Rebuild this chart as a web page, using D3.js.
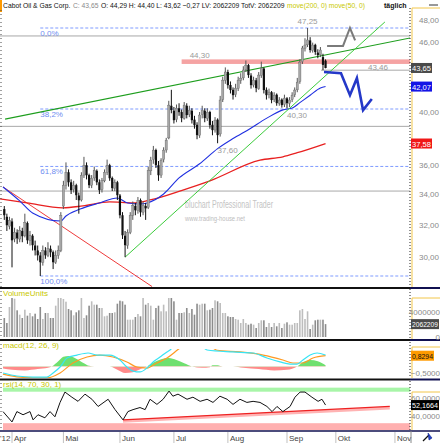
<!DOCTYPE html>
<html>
<head>
<meta charset="utf-8">
<script src="https://cdn.jsdelivr.net/npm/d3@7"></script>
<style>
  body { margin: 0; background: #fff; }
  svg { display: block; font-family: "Liberation Sans", Arial, sans-serif; }
</style>
</head>
<body>
<div id="wrapper"></div>
<script>
// daily bars, Cabot Oil & Gas, 2012-03-28 .. 2012-09-25
const firstDay = "2012-03-28";
const lastAxisDay = "2012-11-30";
const holidays = ["2012-04-06", "2012-05-28", "2012-07-04", "2012-09-03"];
const monthLabels = ["Apr", "Mai", "Jun", "Jul", "Aug", "Sep", "Okt", "Nov"];

const openPrices = [
  33.00,32.50,31.90,32.20,31.10,31.50,31.10,31.60,31.30,32.10,
  31.00,31.30,30.70,30.40,30.10,29.70,30.40,30.10,30.50,30.30,
  29.70,30.10,30.40,33.20,34.60,35.50,34.80,34.30,34.60,33.90,
  33.60,35.30,36.00,35.30,34.60,35.10,35.60,34.80,34.30,34.90,
  35.50,36.00,35.10,34.40,34.80,33.90,32.60,31.30,30.70,31.50,
  32.60,33.20,32.90,33.60,32.80,33.20,33.10,35.60,36.40,37.10,
  36.00,35.30,36.40,37.10,38.00,40.50,40.10,39.40,40.30,40.00,
  39.50,40.50,39.80,40.10,39.40,39.00,38.20,39.80,40.10,39.50,
  40.00,39.00,38.60,39.40,38.30,41.00,42.60,43.30,42.20,41.80,
  41.40,41.90,42.60,42.80,43.50,43.90,43.00,42.20,42.60,41.90,
  43.00,43.60,41.80,41.40,41.60,41.00,41.40,40.70,41.00,40.60,
  41.10,40.70,41.00,41.40,41.80,42.50,44.20,45.40,45.70,46.10,
  45.20,45.70,45.00,44.80,44.60,44.29
];
const highPrices = [
  33.20,32.70,32.50,32.40,31.80,31.70,31.90,31.80,32.70,32.20,
  31.60,31.40,31.00,30.70,30.30,30.70,30.60,30.90,30.70,30.40,
  30.40,30.70,32.80,34.90,36.20,35.70,35.00,34.90,34.70,34.10,
  35.50,36.60,36.20,35.40,35.30,35.90,35.70,35.00,35.10,35.70,
  36.40,36.10,35.20,35.00,34.90,34.00,32.80,31.60,31.70,32.80,
  33.50,33.40,33.80,33.70,33.50,33.40,35.90,36.60,37.40,37.20,
  36.30,36.50,37.30,38.00,40.90,41.80,40.40,40.60,40.70,40.20,
  40.80,40.70,40.50,40.30,39.70,39.20,40.00,40.50,40.30,40.30,
  40.10,39.30,39.60,39.50,41.30,42.90,43.70,43.50,42.50,42.00,
  42.30,42.90,43.20,43.80,44.30,44.00,43.20,42.90,42.80,43.30,
  44.20,43.70,42.00,41.90,41.70,41.60,41.50,41.20,41.10,41.40,
  41.20,41.20,41.60,42.00,42.80,44.40,45.60,46.30,47.25,46.40,
  45.90,45.80,45.30,45.50,44.90,44.40
];
const lowPrices = [
  32.30,31.60,31.70,29.40,30.90,30.80,30.90,30.90,31.20,30.80,
  30.70,30.40,30.10,29.80,28.90,29.50,29.90,30.00,30.00,29.30,
  29.60,29.90,30.30,33.00,34.30,34.50,34.00,34.10,33.60,32.70,
  33.50,35.10,35.00,34.40,34.40,34.90,34.60,34.00,34.10,34.80,
  35.30,34.90,34.20,34.20,33.60,32.40,31.10,30.00,30.50,31.40,
  32.30,32.60,32.70,32.50,32.60,32.30,33.00,35.30,36.10,35.80,
  34.90,35.10,36.20,36.90,37.90,39.90,39.10,39.20,39.70,39.20,
  39.40,39.50,39.60,39.10,38.70,37.90,38.00,39.50,39.20,39.30,
  38.70,38.20,38.40,37.60,38.10,40.80,42.30,41.90,41.50,41.00,
  41.20,41.70,42.30,42.60,43.30,42.80,41.90,42.00,41.60,41.80,
  42.80,41.50,41.00,41.10,40.70,40.80,40.50,40.50,40.35,40.40,
  40.30,40.40,40.80,41.20,41.60,42.30,44.00,45.10,45.50,45.00,
  45.00,44.80,44.50,44.60,43.46,43.62
];
const closePrices = [
  32.60,31.96,32.28,31.02,31.52,31.14,31.64,31.27,32.15,31.02,
  31.33,30.72,30.41,30.11,29.70,30.41,30.11,30.53,30.29,29.70,
  30.11,30.41,32.60,34.60,35.50,34.80,34.26,34.60,33.92,33.58,
  35.29,36.00,35.29,34.60,35.08,35.64,34.80,34.26,34.94,35.50,
  36.00,35.08,34.40,34.80,33.92,32.60,31.33,30.72,31.52,32.60,
  33.25,32.92,33.58,32.79,33.25,33.05,35.64,36.36,37.09,36.00,
  35.29,36.36,37.09,37.83,40.55,40.15,39.36,40.31,39.99,39.52,
  40.55,39.76,40.15,39.36,38.97,38.21,39.76,40.15,39.52,39.99,
  38.97,38.59,39.36,38.21,40.96,42.61,43.30,42.19,41.78,41.36,
  41.94,42.61,42.78,43.47,43.90,43.04,42.19,42.61,41.94,43.04,
  43.64,41.78,41.36,41.61,40.96,41.36,40.71,40.96,40.55,41.12,
  40.71,40.96,41.36,41.78,42.44,44.16,45.41,45.68,46.14,45.23,
  45.68,45.05,44.78,45.23,43.92,43.65
];
// volume in millions of shares
const volumes = [
  3.04,2.24,4.80,6.24,6.13,4.27,3.57,3.04,4.37,3.41,
  3.84,3.31,3.73,2.88,4.80,2.88,3.84,3.84,3.04,3.04,
  5.01,6.24,6.24,6.08,5.65,4.48,4.27,3.47,3.95,4.27,
  6.24,3.04,3.47,5.01,5.71,5.17,5.17,4.64,4.64,3.31,
  3.41,3.84,3.84,3.95,5.33,5.81,5.71,5.17,2.77,2.77,
  2.77,3.20,3.68,3.31,6.24,5.17,5.44,5.01,2.77,4.64,
  5.01,4.11,5.17,4.11,6.24,6.24,5.71,2.77,3.84,3.84,
  3.95,4.64,3.84,4.48,3.57,5.33,5.17,5.33,5.33,4.27,
  4.37,4.64,5.87,5.71,5.44,3.84,3.84,3.31,3.20,3.20,
  2.88,2.77,2.24,2.88,2.24,1.97,2.13,1.97,1.44,2.24,
  2.67,2.67,1.60,2.24,1.60,2.24,1.71,2.24,1.44,2.13,
  2.35,1.97,1.97,2.24,2.24,4.27,4.48,2.88,4.11,1.28,
  1.97,2.67,2.77,2.77,2.77,2.062209
];

// indicator curves as [bar index, value]
const ma50Points = [[-0.5,34.48],[6,33.54],[11,32.75],[22,32.23],[24,32.55],[29.5,33.0],[37,33.4],[44,33.73],[48,33.4],[53,33.34],[55.5,33.4],[62,34.0],[68,35.1],[76,36.1],[83,37.2],[89,37.95],[95.6,38.7],[102,39.5],[108.4,40.17],[112.3,40.35],[115,40.75],[119,41.35],[123,41.95],[125,42.07]];
const ma200Points = [[-1.7,33.67],[8.8,33.41],[22.8,33.08],[30.6,33.21],[41,33.47],[50,33.41],[56.7,33.6],[69.5,34.27],[80,34.9],[99.5,36.36],[108.4,36.6],[114,36.9],[125,37.58]];
const macdPoints = [[-0.5,-0.5],[4.9,-0.73],[11.2,-0.81],[16.6,-0.81],[19,-0.5],[21.7,-0.04],[24.4,0.65],[28.3,0.88],[32.6,1.04],[36.1,0.88],[41.1,0.88],[45,0.5],[47.7,-0.04],[50.1,-0.35],[52.8,-0.42],[55.5,-0.12],[57.9,0.35],[60.6,0.73],[63.3,1.12],[64.5,1.27],[67,1.8],[71,2.2],[75,2.0],[78.9,1.27],[89,1.12],[96.8,1.04],[102.2,0.65],[107.3,0.35],[111.2,0.19],[113.9,0.19],[116.2,0.5],[119,0.88],[121.7,1.04],[125,0.88]];
const signalPoints = [[-0.5,-0.58],[6.1,-0.81],[16.6,-0.88],[21.7,-0.5],[26.7,0.27],[32.2,0.73],[37.2,0.88],[42.3,0.73],[47.7,0.35],[51.6,-0.04],[55.5,-0.12],[59.4,0.27],[63.3,0.65],[67.6,1.3],[71,1.8],[76,2.0],[80,1.6],[82.8,1.25],[91.7,1.12],[100.7,0.88],[108.4,0.5],[112.3,0.27],[116.2,0.27],[120.1,0.65],[125,0.8294]];
const histPoints = [[-0.5,-0.15],[3,-0.25],[8,-0.3],[13,-0.2],[17,-0.1],[18.5,0],[21,0.4],[23,0.75],[25,0.8],[28,0.6],[31,0.25],[33,0.05],[35,0],[41,0],[44,-0.25],[47,-0.5],[50,-0.45],[53,-0.2],[55.5,0],[58,0.3],[61,0.55],[64,0.65],[67,0.5],[70,0.25],[73,0],[77,-0.1],[80,-0.05],[81,0.1],[83,0.1],[85,0],[89,0],[93,-0.1],[99,-0.2],[105,-0.3],[110,-0.25],[114,0],[116,0.3],[119,0.5],[122,0.4],[125,0.1]];
const rsiPoints = [[-0.5,44.9],[3,33.4],[4.9,44.9],[7.3,41.4],[10,44.9],[11.2,35.7],[13.1,41.4],[15.8,38],[17.8,44.9],[19.7,39.1],[21.7,55.1],[23.6,66.6],[26.3,60.9],[28.7,56.3],[31.4,64.3],[34.1,58.6],[36.5,50.6],[40.4,58.6],[43.1,47.1],[46.2,35.7],[48.1,44.9],[50.1,47.1],[52.8,49.4],[54.8,47.1],[56.7,58.6],[59.4,52.9],[61.8,58.6],[64.1,67.7],[65.6,62],[67.6,64.3],[71.1,58.6],[73.4,60.9],[76.2,56.3],[78.9,58.6],[81.2,55.1],[83.9,62],[86.7,58.6],[89,52.9],[91.7,58.6],[94.4,55.1],[96.8,56.3],[99.5,55.1],[102.2,50.6],[104.2,44.9],[106.1,50.6],[108.4,44.9],[111.2,50.6],[113.1,60.9],[115.1,66.6],[117,66.6],[119.7,60.9],[122.1,56.3],[123.6,58.6],[125,52.1664]];

// drawn objects, [bar index, price]
const fibHigh = 47.25, fibLow = 28.90, fibStartBar = 14;
const fibLevels = [0, 0.382, 0.618, 1];
const grayLevels = [46.51, 38.88, 34.20];
const resistance = 44.30, resistanceBand = [44.00, 44.40], resistanceStartBar = 69;
const supportLevel = 43.46, supportStartBar = 124;
const trendUpperGreen = [[0.3, 39.44], [157.9, 46.33]];
const trendLowerGreen = [[47, 30.00], [148.1, 47.82]];
const trendRedDown = [[-0.5, 34.48], [57.5, 28.30]];
const rsiTrend = [[46.2, 35.7], [150, 50.6]];
const projectionUp = [[125.6, 45.6], [131.8, 45.6], [134.5, 47.25], [136.5, 46.1]];
const projectionDown = [[124.4, 43.3], [131, 43.2], [134.5, 41.36], [137.2, 42.78], [139.6, 40.15], [143, 41.05]];
const priceLabels = [{bar: 118, value: 47.25, above: true}, {bar: 110, value: 40.30}, {bar: 83, value: 37.60}];
const priceTicks = [30, 32, 34, 36, 38, 40, 42, 44, 46, 48];
const lastVolume = 2062209;

const loc = d3.formatLocale({decimal: ",", thousands: "", grouping: [3], currency: ["", ""]});
const fmt2 = loc.format(".2f"), fmt4 = loc.format(".4f"), fmtPct = loc.format(".1%");

const parse = d3.timeParse("%Y-%m-%d");
const dayKey = d3.timeFormat("%Y-%m-%d");
const tradingDays = d3.timeDay.range(parse(firstDay), d3.timeDay.offset(parse(lastAxisDay), 1))
  .filter(d => d.getDay() !== 0 && d.getDay() !== 6 && !holidays.includes(dayKey(d)));

const bars = closePrices.map((c, i) => ({
  i, date: tradingDays[i], open: openPrices[i], high: highPrices[i], low: lowPrices[i], close: c, volume: volumes[i]
}));

const width = 440, height = 443, plotRight = 410;
const panel = {
  price: {top: 10, bottom: 287},
  volume: {top: 289, bottom: 339},
  macd: {top: 342, bottom: 378},
  rsi: {top: 381, bottom: 430}
};

const x = d3.scaleLinear().domain([-1.67, 157.86]).range([0, plotRight]);
const yPrice = d3.scaleLog().domain([fibLow, fibHigh]).range([276, 28]);
const yVol = d3.scaleLinear().domain([0, 4]).range([337, 312]);
const yMacd = d3.scaleLinear().domain([-0.5, 0.5]).range([373, 360]);
const yRsi = d3.scaleLinear().domain([40, 60]).range([416, 398]);

const svg = d3.select("#wrapper").append("svg").attr("width", width).attr("height", height);
const defs = svg.append("defs");
function clipRect(id, x0, y0, x1, y1) {
  defs.append("clipPath").attr("id", id).append("rect")
    .attr("x", x0).attr("y", y0).attr("width", x1 - x0).attr("height", y1 - y0);
  return `url(#${id})`;
}

svg.append("rect").attr("width", width).attr("height", height).attr("fill", "#fff");

// ---------- header ----------
const last = bars[bars.length - 1];
const prev = bars[bars.length - 2];
svg.append("rect").attr("x", 0).attr("y", 0).attr("width", 2).attr("height", 12).attr("fill", "#ff9a00");
const headerParts = [
  {text: "Cabot Oil & Gas Corp.", fill: "#111"},
  {text: `C: ${fmt2(last.close)}`, fill: "#8a8a8a"},
  {text: `O: ${fmt2(last.open)} H: ${fmt2(last.high)} L: ${fmt2(last.low)} ${fmt2(last.close - prev.close)} LV: ${lastVolume} TotV: ${lastVolume}`, fill: "#111"},
  {text: "move(200, 0) move(50, 0)", fill: "#c8c800"}
];
// the header font is condensed: lay the parts out at natural width, then squeeze the group
const headerG = svg.append("g");
let cursor = 0;
headerParts.forEach(p => {
  const t = headerG.append("text").attr("x", cursor).attr("y", 8).attr("font-size", 8).attr("fill", p.fill).text(p.text);
  cursor += t.node().getComputedTextLength() + 3;
});
headerG.attr("transform", `translate(3,0) scale(${362 / (cursor - 3)},1)`);
svg.append("text").attr("x", 384).attr("y", 8).attr("font-size", 7).attr("font-weight", "bold")
  .attr("fill", "#111").text("täglich");
svg.append("line").attr("x1", 429).attr("x2", 438).attr("y1", 5).attr("y2", 5).attr("stroke", "#333");

// ---------- price panel ----------
const pricePlot = svg.append("g").attr("clip-path", clipRect("clipPrice", 0, panel.price.top, plotRight, panel.price.bottom));

pricePlot.append("text")
  .attr("x", 185).attr("y", 208).attr("font-size", 11).attr("fill", "#c4c4c4")
  .attr("textLength", 88).attr("lengthAdjust", "spacingAndGlyphs")
  .text("bluchart Professional Trader");
pricePlot.append("text")
  .attr("x", 185).attr("y", 221).attr("font-size", 8).attr("fill", "#bdbdbd")
  .attr("textLength", 60).attr("lengthAdjust", "spacingAndGlyphs")
  .text("www.trading-house.net");

pricePlot.selectAll(".gray-level").data(grayLevels).join("line")
  .attr("x1", 0).attr("x2", plotRight)
  .attr("y1", d => yPrice(d)).attr("y2", d => yPrice(d))
  .attr("stroke", "#a8a8a8");

pricePlot.append("line")
  .attr("x1", x(supportStartBar) - 2).attr("x2", plotRight)
  .attr("y1", yPrice(supportLevel)).attr("y2", yPrice(supportLevel))
  .attr("stroke", "#a8a8a8");

pricePlot.append("rect")
  .attr("x", x(resistanceStartBar)).attr("width", plotRight - x(resistanceStartBar))
  .attr("y", yPrice(resistanceBand[1])).attr("height", yPrice(resistanceBand[0]) - yPrice(resistanceBand[1]))
  .attr("fill", "#f5a3a3");

const fibPrices = fibLevels.map(l => ({level: l, price: fibHigh - l * (fibHigh - fibLow)}));
pricePlot.selectAll(".fib").data(fibPrices).join("line")
  .attr("x1", x(fibStartBar)).attr("x2", plotRight)
  .attr("y1", d => yPrice(d.price)).attr("y2", d => yPrice(d.price))
  .attr("stroke", "#7f9bff").attr("stroke-dasharray", "3,2");
pricePlot.selectAll(".fib-label").data(fibPrices).join("text")
  .attr("x", x(fibStartBar)).attr("y", d => yPrice(d.price) + 8)
  .attr("font-size", 8).attr("fill", "#6f8cf0")
  .text(d => fmtPct(d.level));

const straight = d3.line().x(d => x(d[0])).y(d => yPrice(d[1]));
const smooth = d3.line().x(d => x(d[0])).y(d => yPrice(d[1])).curve(d3.curveMonotoneX);

pricePlot.append("path").attr("d", straight(trendRedDown)).attr("fill", "none").attr("stroke", "#ee3a3a").attr("stroke-width", 1);
pricePlot.append("path").attr("d", smooth(ma200Points)).attr("fill", "none").attr("stroke", "#e82020").attr("stroke-width", 1.3);
pricePlot.append("path").attr("d", smooth(ma50Points)).attr("fill", "none").attr("stroke", "#2030e0").attr("stroke-width", 1.1);
pricePlot.append("path").attr("d", straight(trendUpperGreen)).attr("fill", "none").attr("stroke", "#1e9e1e").attr("stroke-width", 1.1);
pricePlot.append("path").attr("d", straight(trendLowerGreen)).attr("fill", "none").attr("stroke", "#3ccc3c").attr("stroke-width", 1);

const candles = pricePlot.append("g").selectAll("g").data(bars).join("g");
candles.append("line")
  .attr("x1", d => x(d.i)).attr("x2", d => x(d.i))
  .attr("y1", d => yPrice(d.high)).attr("y2", d => yPrice(d.low))
  .attr("stroke", d => d.close >= d.open ? "#555" : "#111");
candles.append("rect")
  .attr("x", d => x(d.i) - 1.1).attr("width", 2.2)
  .attr("y", d => yPrice(Math.max(d.open, d.close)))
  .attr("height", d => Math.max(1, Math.abs(yPrice(d.open) - yPrice(d.close))))
  .attr("fill", d => d.close >= d.open ? "#a6a6a6" : "#111")
  .attr("stroke", d => d.close >= d.open ? "#666" : "none").attr("stroke-width", 0.4);

pricePlot.append("path").attr("d", straight(projectionUp)).attr("fill", "none").attr("stroke", "#7a7a7a").attr("stroke-width", 2);
pricePlot.append("path").attr("d", straight(projectionDown)).attr("fill", "none").attr("stroke", "#2438c8").attr("stroke-width", 2.6);

const grayText = pricePlot.append("g").attr("font-size", 8).attr("fill", "#9a9a9a");
priceLabels.forEach(p => {
  grayText.append("text")
    .attr("x", x(p.bar)).attr("y", p.above ? yPrice(p.value) - 4 : yPrice(p.value) + 10)
    .attr("text-anchor", p.above ? "middle" : "start")
    .text(fmt2(p.value));
});
grayText.append("text").attr("x", x(resistanceStartBar) + 8).attr("y", yPrice(resistanceBand[1]) - 1).text(fmt2(resistance));
grayText.append("text").attr("x", 388).attr("y", yPrice(supportLevel)).attr("text-anchor", "end").text(fmt2(supportLevel));

// ---------- volume panel ----------
const volPlot = svg.append("g").attr("clip-path", clipRect("clipVol", 0, panel.volume.top, plotRight, panel.volume.bottom));
volPlot.selectAll("rect").data(bars).join("rect")
  .attr("x", d => x(d.i) - 0.8).attr("width", 1.6)
  .attr("y", d => yVol(d.volume)).attr("height", d => yVol(0) - yVol(d.volume))
  .attr("fill", d => d.close >= d.open ? "#bdbdbd" : "#8c8c8c");

// ---------- macd panel ----------
const macdPlot = svg.append("g").attr("clip-path", clipRect("clipMacd", 0, 349, plotRight, panel.macd.bottom));
const histArea = d3.area().x(d => x(d[0])).y0(yMacd(0)).y1(d => yMacd(d[1])).curve(d3.curveMonotoneX);
macdPlot.append("path").attr("d", histArea(histPoints)).attr("fill", "#6fe06f")
  .attr("clip-path", clipRect("clipHistUp", 0, panel.macd.top, plotRight, yMacd(0)));
macdPlot.append("path").attr("d", histArea(histPoints)).attr("fill", "#ff8a8a")
  .attr("clip-path", clipRect("clipHistDown", 0, yMacd(0), plotRight, panel.macd.bottom));
const macdLine = d3.line().x(d => x(d[0])).y(d => yMacd(d[1])).curve(d3.curveMonotoneX);
macdPlot.append("path").attr("d", macdLine(signalPoints)).attr("fill", "none").attr("stroke", "#ff9a22").attr("stroke-width", 1.2);
macdPlot.append("path").attr("d", macdLine(macdPoints)).attr("fill", "none").attr("stroke", "#38e4f4").attr("stroke-width", 1.2);

// ---------- rsi panel ----------
const rsiPlot = svg.append("g").attr("clip-path", clipRect("clipRsi", 0, panel.rsi.top, plotRight, panel.rsi.bottom));
rsiPlot.append("rect").attr("x", 3).attr("width", plotRight - 3)
  .attr("y", yRsi(71.5)).attr("height", yRsi(67) - yRsi(71.5)).attr("fill", "#a8f5a8");
rsiPlot.append("rect").attr("x", 3).attr("width", plotRight - 3)
  .attr("y", yRsi(32)).attr("height", panel.rsi.bottom - yRsi(32)).attr("fill", "#ffb0b0");
const rsiLine = d3.line().x(d => x(d[0])).y(d => yRsi(d[1]));
rsiPlot.append("path").attr("d", rsiLine(rsiTrend)).attr("fill", "none").attr("stroke", "#ffb3b3").attr("stroke-width", 3).attr("transform", "translate(0,1.5)");
rsiPlot.append("path").attr("d", rsiLine(rsiTrend)).attr("fill", "none").attr("stroke", "#ee2222").attr("stroke-width", 1.2);
rsiPlot.append("path").attr("d", rsiLine(rsiPoints)).attr("fill", "none").attr("stroke", "#111").attr("stroke-width", 1);

// ---------- panel titles ----------
const titles = [
  {text: "VolumeUnits", y: 296},
  {text: "macd(12, 26, 9)", y: 348},
  {text: "rsi(14, 70, 30, 1)", y: 386.5}
];
svg.selectAll(".title").data(titles).join("text")
  .attr("x", 3).attr("y", d => d.y).attr("font-size", 8).attr("fill", "#c8c800").text(d => d.text);

// ---------- frames & right axis ----------
const frame = svg.append("g");
[[panel.price.top - 2, panel.price.bottom], [panel.volume.top, panel.volume.bottom], [panel.macd.top, panel.macd.bottom], [panel.rsi.top, panel.rsi.bottom]]
  .forEach(([t, b]) => {
    frame.append("line").attr("x1", plotRight).attr("x2", plotRight).attr("y1", t).attr("y2", b)
      .attr("stroke", "#222").attr("stroke-dasharray", "1,2");
    frame.append("line").attr("x1", 1).attr("x2", 1).attr("y1", t + 2).attr("y2", b)
      .attr("stroke", "#444").attr("stroke-dasharray", "1,3");
  });
[[8, panel.price.bottom], [298, panel.volume.bottom], [347, panel.macd.bottom], [392, panel.rsi.bottom]]
  .forEach(([t, b]) => {
    frame.append("path").attr("d", `M${width},${t}H${plotRight + 2}V${b}`)
      .attr("fill", "none").attr("stroke", "#f2c64a").attr("stroke-width", 1);
  });
[288, 340, 379.5].forEach(yy => {
  frame.append("line").attr("x1", 0).attr("x2", plotRight).attr("y1", yy).attr("y2", yy).attr("stroke", "#111").attr("stroke-width", 2);
  frame.append("line").attr("x1", plotRight).attr("x2", width).attr("y1", yy).attr("y2", yy).attr("stroke", "#101050").attr("stroke-width", 2);
});
frame.append("line").attr("x1", 0).attr("x2", width).attr("y1", 431).attr("y2", 431).attr("stroke", "#101050").attr("stroke-width", 1.5);

// value boxes on the right axis; axis labels hidden under a box are left out
const boxes = [
  {y: yPrice(last.close), text: fmt2(last.close), fill: "#4a4a4a", color: "#fff", w: 21},
  {y: yPrice(ma50Points[ma50Points.length - 1][1]), text: fmt2(ma50Points[ma50Points.length - 1][1]), fill: "#1414e6", color: "#fff", w: 21},
  {y: yPrice(ma200Points[ma200Points.length - 1][1]), text: fmt2(ma200Points[ma200Points.length - 1][1]), fill: "#f01818", color: "#fff", w: 21},
  {y: yVol(last.volume), text: String(lastVolume), fill: "#4a4a4a", color: "#fff", w: 28},
  {y: yMacd(signalPoints[signalPoints.length - 1][1]), text: fmt4(signalPoints[signalPoints.length - 1][1]), fill: "#ff9a00", color: "#111", w: 23},
  {y: yRsi(rsiPoints[rsiPoints.length - 1][1]), text: fmt4(rsiPoints[rsiPoints.length - 1][1]), fill: "#000", color: "#fff", w: 28}
];
const free = yy => boxes.every(b => Math.abs(b.y - yy) > 6);

const axisText = svg.append("g").attr("font-size", 8).attr("fill", "#8a8a8a").attr("text-anchor", "end");
axisText.selectAll(".ptick").data(priceTicks.filter(d => free(yPrice(d)))).join("text")
  .attr("x", 439).attr("y", d => yPrice(d) + 3).text(d => fmt2(d));
axisText.selectAll(".vtick").data([0, 4]).join("text")
  .attr("x", 440).attr("y", d => yVol(d) + 3).text(d => d3.format("d")(d * 1e6));
axisText.selectAll(".mtick").data([0.5, -0.5].filter(d => free(yMacd(d)))).join("text")
  .attr("x", 440).attr("y", d => yMacd(d) + 3).text(d => fmt4(d));
axisText.selectAll(".rtick").data([60, 40]).join("text")
  .attr("x", 440).attr("y", d => yRsi(d) + 3).text(d => fmt4(d));

boxes.forEach(b => {
  svg.append("rect").attr("x", plotRight + 1).attr("y", b.y - 5).attr("width", b.w).attr("height", 10).attr("fill", b.fill);
  svg.append("text").attr("x", plotRight + 2).attr("y", b.y + 3).attr("font-size", 7).attr("fill", b.color)
    .attr("textLength", b.w - 2).attr("lengthAdjust", "spacingAndGlyphs").text(b.text);
});

// ---------- time axis ----------
const monthStarts = monthLabels.map((label, k) => {
  const idx = tradingDays.findIndex(d => d.getMonth() === 3 + k);
  return {label, i: idx};
});
const timeAxis = svg.append("g").attr("font-size", 8).attr("fill", "#444");
timeAxis.append("text").attr("x", 0).attr("y", 441).text("'12");
timeAxis.selectAll(".mt").data(monthStarts).join("line")
  .attr("x1", d => x(d.i)).attr("x2", d => x(d.i)).attr("y1", 432).attr("y2", 443)
  .attr("stroke", "#c0c0c0");
timeAxis.selectAll(".ml").data(monthStarts).join("text")
  .attr("x", d => x(d.i) + 2).attr("y", 441).text(d => d.label);

svg.append("line").attr("x1", plotRight + 1).attr("x2", plotRight + 1).attr("y1", 431).attr("y2", 443).attr("stroke", "#888");
svg.append("path").attr("d", "M423,441L429,435").attr("stroke", "#111").attr("stroke-width", 1.2);
svg.append("path").attr("d", "M428,433L432,438L429,440Z").attr("fill", "#2244cc").attr("stroke", "#112288").attr("stroke-width", 0.6);
</script>
</body>
</html>
